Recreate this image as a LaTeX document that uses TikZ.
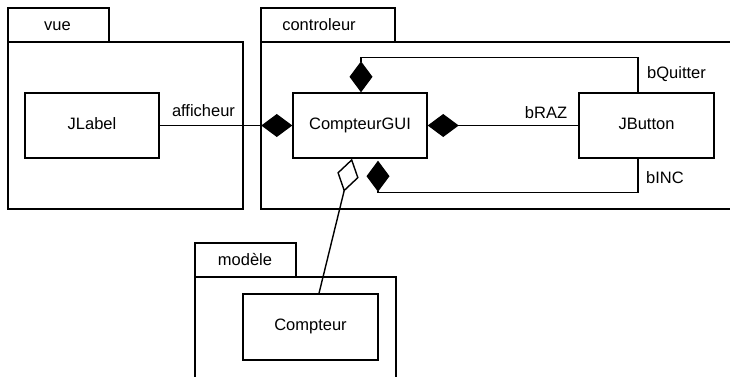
\documentclass[tikz,border=0pt]{standalone}
\usepackage{fontspec}
\setmainfont{Liberation Sans}
\usetikzlibrary{arrows.meta}
\begin{document}
\begin{tikzpicture}[x=1pt,y=-1pt, line width=1.4pt,
  every node/.style={font=\fontsize{16.5}{18}\selectfont},
  cls/.style={draw, fill=white, minimum width=134pt, minimum height=65pt, inner sep=0pt, text height=12pt, text depth=5pt},
  pkg/.style={draw},
  lbl/.style={anchor=base, inner sep=0pt},
  comp/.style={-{Diamond[length=31pt,width=23pt]}},
  agg/.style={-{Diamond[fill=white,length=34pt,width=22pt]}},
]
\useasboundingbox (0,0) rectangle (730,377);
\clip (0,0) rectangle (730,377);
% packages
\draw[pkg] (8,8) rectangle (109,42);
\draw[pkg] (8,42) rectangle (243,209);
\draw[pkg] (261,8) rectangle (395,42);
\draw[pkg] (261,42) rectangle (745,209);
\draw[pkg] (195,243) rectangle (296,277);
\draw[pkg] (195,277) rectangle (396,395);
\node[lbl] (tvue) at (57.5,30.5) {vue};
\node[lbl] (tctrl) at (319,31) {controleur};
\node[lbl] (tmod) at (245,265) {modèle};
% classes
\node[cls] (jlabel) at (92,125.5) {JLabel};
\node[cls] (gui) at (360,125.5) {CompteurGUI};
\node[cls, minimum width=135pt] (jbutton) at (646.5,125.5) {JButton};
\node[cls, minimum width=135pt, minimum height=66pt] (compteur) at (310.5,327) {Compteur};
% connectors
\draw[comp] (jlabel.east) -- (gui.west);
\draw[comp] (jbutton.west) -- (gui.east);
\draw[comp] ([xshift=-8.5pt]jbutton.north) -- ++(0,-35) -| ([xshift=1pt]gui.north);
\draw[comp] ([xshift=-8.5pt]jbutton.south) -- ++(0,34) -| ([xshift=18pt,yshift=-2pt]gui.south);
\draw[agg] ([xshift=8.5pt]compteur.north) -- ([xshift=-8pt]gui.south);
% labels
\node[lbl] (laff) at (203.5,117) {afficheur};
\node[lbl] (lraz) at (546,118) {bRAZ};
\node[lbl] (lquit) at (676.5,79) {bQuitter};
\node[lbl] (linc) at (665,183) {bINC};
\end{tikzpicture}
\end{document}
